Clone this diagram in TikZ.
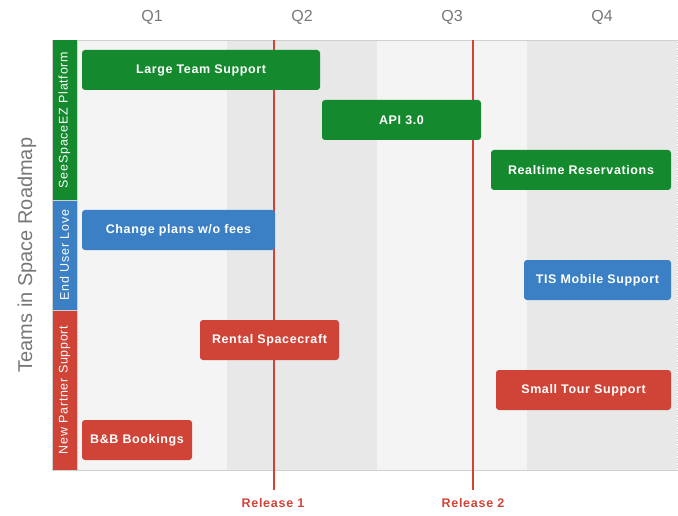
\documentclass[tikz,border=0pt]{standalone}
\usepackage{fontspec}
\setmainfont{Liberation Sans}
\newfontfamily\spacedfont[LetterSpace=5]{Liberation Sans}
\newfontfamily\relfont[LetterSpace=6]{Liberation Sans}
\newfontfamily\teamfont[LetterSpace=6]{Liberation Sans}
\definecolor{cgreen}{RGB}{20,137,46}
\definecolor{cblue}{RGB}{59,128,196}
\definecolor{cred}{RGB}{208,68,55}
\definecolor{bandA}{RGB}{244,244,244}
\definecolor{bandB}{RGB}{232,232,232}
\definecolor{qgray}{RGB}{120,120,120}
\definecolor{frame}{RGB}{208,208,208}
\tikzset{
  bar/.style={rounded corners=3pt, inner sep=0pt, minimum height=40pt, text=white,
    font=\spacedfont\fontsize{12.5}{14}\selectfont\bfseries},
  team/.style={inner sep=0pt, minimum width=25pt, text=white, font=\teamfont\fontsize{12.5}{14}\selectfont},
  qlab/.style={text=qgray, font=\fontsize{16}{18}\selectfont},
  rel/.style={draw=cred, line width=1.3pt},
  rellab/.style={text=cred, font=\relfont\fontsize{12.5}{14}\selectfont\bfseries},
}
\begin{document}
\begin{tikzpicture}[x=1pt,y=-1pt]
\useasboundingbox (0,0) rectangle (678,516);
% bands
\fill[bandA] (77,40) rectangle (227,470);
\fill[bandB] (227,40) rectangle (377,470);
\fill[bandA] (377,40) rectangle (527,470);
\fill[bandB] (527,40) rectangle (677,470);
\draw[frame, dotted] (677,40) -- (677,470);
% frame
\draw[frame, line width=0.8pt] (52,40) -- (678,40);
\draw[frame, line width=0.8pt] (52,470) -- (678,470);
% team column
\node[team, fill=cgreen, minimum height=160pt] (t1) at (64.5,120) {\rotatebox{90}{SeeSpaceEZ Platform}};
\node[team, fill=cblue, minimum height=110pt] (t2) at (64.5,255) {\rotatebox{90}{End User Love}};
\node[team, fill=cred, minimum height=160pt] (t3) at (64.5,390) {\rotatebox{90}{New Partner Support}};
\draw[frame, line width=0.8pt] (52,40) -- (52,470);
\draw[frame, line width=0.6pt] (77,40) -- (77,470);
\draw[frame, line width=0.6pt] (52,200) -- (77,200);
\draw[frame, line width=0.6pt] (52,310) -- (77,310);
% quarter labels
\node[qlab] (q1) at (152,17) {Q1};
\node[qlab] (q2) at (302,17) {Q2};
\node[qlab] (q3) at (452,17) {Q3};
\node[qlab] (q4) at (602,17) {Q4};
% title
\node[text=qgray, font=\fontsize{20}{22}\selectfont, rotate=90] (title) at (27,255) {Teams in Space Roadmap};
% release lines
\coordinate (r1t) at (274,40);
\coordinate (r2t) at (473,40);
\node[rellab] (r1) at (273,503) {Release 1};
\node[rellab] (r2) at (473,503) {Release 2};
\draw[rel] (r1t) -- (274,490);
\draw[rel] (r2t) -- (473,490);
% bars
\node[bar, fill=cgreen, minimum width=238pt] (b1) at (201,70) {Large Team Support};
\node[bar, fill=cgreen, minimum width=159pt] (b2) at (401.5,120) {API 3.0};
\node[bar, fill=cgreen, minimum width=180pt] (b3) at (581,170) {Realtime Reservations};
\node[bar, fill=cblue, minimum width=193pt] (b4) at (178.5,230) {Change plans w/o fees};
\node[bar, fill=cblue, minimum width=147pt] (b5) at (597.5,280) {TIS Mobile Support};
\node[bar, fill=cred, minimum width=139pt] (b6) at (269.5,340) {Rental Spacecraft};
\node[bar, fill=cred, minimum width=175pt] (b7) at (583.5,390) {Small Tour Support};
\node[bar, fill=cred, minimum width=110pt] (b8) at (137,440) {B\&B Bookings};
\end{tikzpicture}
\end{document}
